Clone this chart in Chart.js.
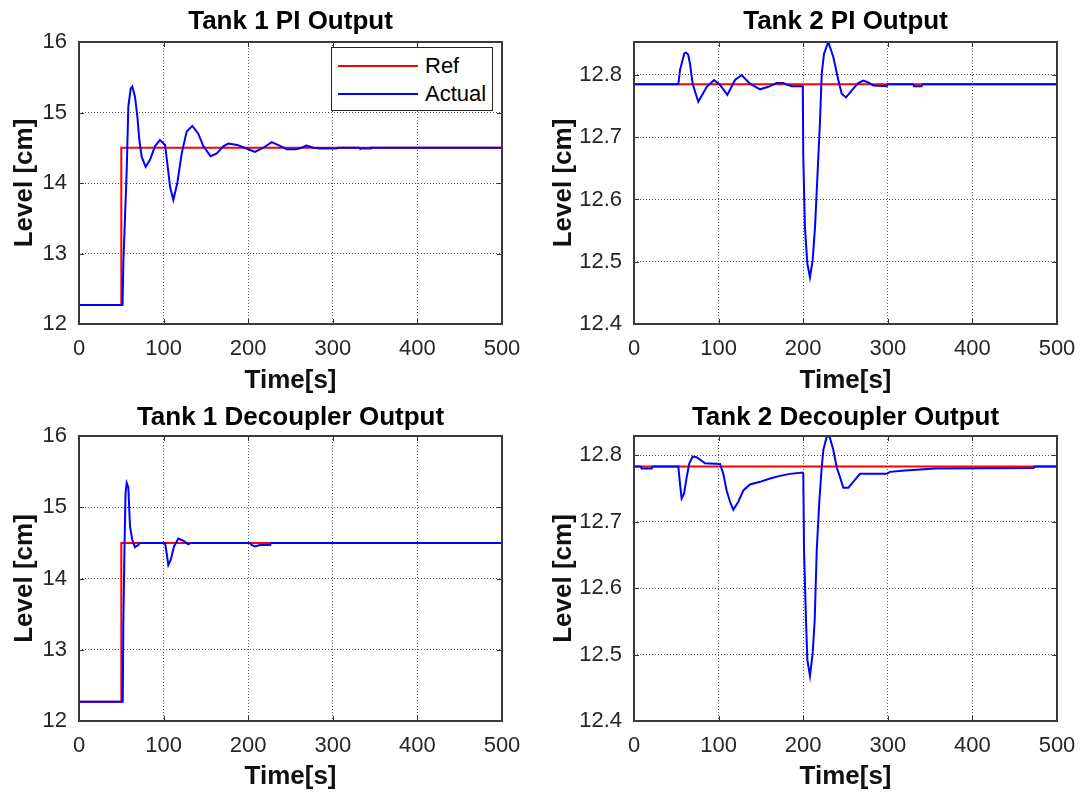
<!DOCTYPE html>
<html>
<head>
<meta charset="utf-8">
<script src="https://cdn.jsdelivr.net/npm/chart.js@4"></script>
<style>
body { margin: 0; background: #fff; }
#wrap { position: relative; width: 1083px; height: 798px; overflow: hidden; background: #fff; }
#wrap canvas { position: absolute; }
#legend { position: absolute; left: 331px; top: 47px; width: 160px; height: 62px; border: 1px solid #262626; background: #fff;
  font-family: "Liberation Sans", Arial, sans-serif; font-size: 22px; color: #000; }
.lrow { position: absolute; left: 0; height: 28px; line-height: 28px; width: 100%; }
.lline { position: absolute; left: 6px; top: 13px; width: 80px; height: 2px; }
.ltext { position: absolute; left: 93px; top: 0; }
</style>
</head>
<body>
<div id="wrap">
  <canvas id="c1" width="581" height="399" style="left:0;top:0"></canvas>
  <canvas id="c2" width="609" height="399" style="left:541px;top:0"></canvas>
  <canvas id="c3" width="581" height="399" style="left:0;top:399px"></canvas>
  <canvas id="c4" width="609" height="399" style="left:541px;top:399px"></canvas>
  <div id="legend"></div>
</div>
<script>
// Tank 1 PI
var t1PiRefTime = [0, 50, 50, 500];
var t1PiRef = [12.27, 12.27, 14.5, 14.5];
var t1PiTime = [0, 51.5, 52.4, 54.4, 56.4, 58.3, 61.1, 63, 66.2, 69, 71.3, 74.1, 78.8, 83.9, 89.8, 95.7, 101.7, 104.4, 107.6, 111.5, 116.2, 121.4, 127.3, 134, 141, 147, 155.6, 162.8, 170.6, 176.5, 187, 198, 208, 218, 227.7, 237, 245.5, 257, 263, 269, 277, 285, 304.6, 306, 331, 332, 344, 345, 500];
var t1PiActual = [12.27, 12.27, 12.86, 13.52, 14.18, 15.08, 15.34, 15.37, 15.22, 14.94, 14.61, 14.37, 14.23, 14.33, 14.52, 14.61, 14.54, 14.28, 13.95, 13.76, 14.0, 14.42, 14.73, 14.81, 14.70, 14.52, 14.38, 14.42, 14.52, 14.56, 14.54, 14.49, 14.44, 14.50, 14.58, 14.53, 14.48, 14.48, 14.50, 14.53, 14.50, 14.49, 14.49, 14.50, 14.50, 14.49, 14.49, 14.50, 14.50];

// Tank 2 PI
var t2PiRefTime = [0, 500];
var t2PiRef = [12.785, 12.785];
var t2PiTime = [0, 52.4, 54.4, 56.3, 59.5, 61.5, 64, 66.2, 69.3, 76, 86, 94.6, 101.7, 110.3, 119.4, 127.3, 137, 149, 158.8, 168.6, 176.5, 180, 186.4, 199.5, 200.1, 202, 204.9, 208, 211.2, 214, 217.9, 219.9, 221.9, 224.6, 229.7, 235.6, 241.5, 245.5, 250.6, 259.3, 265, 271, 277, 283, 298.7, 300, 330, 331, 340, 341, 500];
var t2PiActual = [12.785, 12.785, 12.808, 12.818, 12.835, 12.836, 12.833, 12.818, 12.786, 12.757, 12.781, 12.792, 12.784, 12.768, 12.792, 12.800, 12.786, 12.777, 12.781, 12.787, 12.787, 12.785, 12.782, 12.782, 12.669, 12.556, 12.497, 12.475, 12.503, 12.556, 12.669, 12.727, 12.802, 12.834, 12.853, 12.829, 12.792, 12.770, 12.764, 12.778, 12.787, 12.791, 12.788, 12.783, 12.782, 12.785, 12.785, 12.782, 12.782, 12.785, 12.785];

// Tank 1 decoupler
var t1DecRefTime = [0, 50, 50, 500];
var t1DecRef = [12.27, 12.27, 14.5, 14.5];
var t1DecTime = [0, 51.7, 52.4, 53.8, 55, 56.4, 58.3, 60.3, 63, 66.2, 70.1, 72, 101.7, 103.7, 105.6, 108.4, 112.3, 117.4, 123.3, 129.2, 132, 202, 204, 208, 214, 226, 227, 500];
var t1DecActual = [12.27, 12.27, 13.37, 14.45, 15.2, 15.34, 15.28, 14.73, 14.54, 14.44, 14.47, 14.5, 14.5, 14.35, 14.19, 14.26, 14.45, 14.56, 14.53, 14.48, 14.5, 14.5, 14.47, 14.45, 14.47, 14.47, 14.5, 14.5];

// Tank 2 decoupler
var t2DecRefTime = [0, 500];
var t2DecRef = [12.783, 12.783];
var t2DecTime = [0, 8, 9, 21, 22, 52.4, 54.4, 56.3, 59.1, 62.3, 65.4, 69.3, 74, 84, 101.7, 105.6, 109.5, 113.5, 117.4, 123.3, 129.2, 137.1, 149, 160.8, 172.6, 184.4, 199.4, 200.1, 201, 203.3, 204.9, 208, 211.2, 213.6, 216, 219.1, 221.9, 223.8, 227.8, 231, 235.6, 239.6, 243.5, 247.4, 253.3, 267.1, 298.7, 302.6, 320.3, 355.8, 472, 474, 500];
var t2DecActual = [12.783, 12.783, 12.780, 12.780, 12.783, 12.783, 12.757, 12.735, 12.742, 12.767, 12.788, 12.798, 12.797, 12.788, 12.787, 12.772, 12.747, 12.730, 12.718, 12.730, 12.747, 12.756, 12.760, 12.765, 12.769, 12.772, 12.774, 12.772, 12.657, 12.552, 12.492, 12.468, 12.502, 12.552, 12.657, 12.732, 12.782, 12.808, 12.828, 12.829, 12.808, 12.782, 12.767, 12.751, 12.751, 12.772, 12.772, 12.775, 12.777, 12.780, 12.781, 12.783, 12.783];

var xTicks = [0, 100, 200, 300, 400, 500];

Chart.defaults.font.family = '"Liberation Sans", Arial, sans-serif';
Chart.defaults.color = '#262626';

function toXY(t, v) {
    var pts = [];
    for (var i = 0; i < t.length; i++) {
        pts.push({x: t[i], y: v[i]});
    }
    return pts;
}

// axes box and inward tick marks, like matlab
var boxPlugin = {
    id: 'box',
    afterDraw: function(chart) {
        var ctx = chart.ctx;
        var a = chart.chartArea;
        var xs = chart.scales.x, ys = chart.scales.y;
        var len = 5;
        ctx.save();
        ctx.strokeStyle = '#333';
        ctx.lineWidth = 1;
        ctx.beginPath();
        xs.ticks.forEach(function(tk) {
            var px = Math.round(xs.getPixelForValue(tk.value)) + 0.5;
            ctx.moveTo(px, a.bottom); ctx.lineTo(px, a.bottom - len);
            ctx.moveTo(px, a.top); ctx.lineTo(px, a.top + len);
        });
        ys.ticks.forEach(function(tk) {
            var py = Math.round(ys.getPixelForValue(tk.value)) + 0.5;
            ctx.moveTo(a.left, py); ctx.lineTo(a.left + len, py);
            ctx.moveTo(a.right, py); ctx.lineTo(a.right - len, py);
        });
        ctx.stroke();
        ctx.lineWidth = 2;
        ctx.strokeStyle = '#3a3a3a';
        ctx.strokeRect(a.left, a.top, a.right - a.left, a.bottom - a.top);
        ctx.restore();
    }
};

function makeChart(id, cfg) {
    var ctx = document.getElementById(id).getContext('2d');
    return new Chart(ctx, {
        type: 'line',
        data: {
            datasets: [
                {
                    label: 'Ref',
                    data: toXY(cfg.refTime, cfg.ref),
                    borderColor: '#ff0000',
                    borderWidth: 2,
                    pointRadius: 0,
                    yAxisID: 'y',
                    order: 2
                },
                {
                    label: 'Actual',
                    data: toXY(cfg.time, cfg.actual),
                    borderColor: '#0000ff',
                    borderWidth: 2,
                    pointRadius: 0,
                    yAxisID: 'y',
                    order: 1
                }
            ]
        },
        options: {
            responsive: false,
            animation: false,
            layout: { padding: 0 },
            plugins: {
                legend: { display: false },
                tooltip: { enabled: false },
                title: {
                    display: true,
                    text: cfg.title,
                    color: '#000',
                    font: { size: 26, weight: 'bold' },
                    padding: { top: cfg.titleTop, bottom: cfg.titleBottom }
                }
            },
            scales: {
                x: {
                    type: 'linear',
                    min: 0,
                    max: 500,
                    afterBuildTicks: function(scale) {
                        scale.ticks = xTicks.map(function(v) { return {value: v}; });
                    },
                    ticks: { font: { size: 22 }, padding: 12, maxRotation: 0, color: '#262626' },
                    grid: { color: 'rgba(30,30,30,0.75)', lineWidth: 1, drawTicks: false },
                    border: { display: false, dash: [1, 2] },
                    title: {
                        display: true,
                        text: 'Time[s]',
                        color: '#111',
                        font: { size: 26, weight: 'bold' },
                        padding: { top: 0, bottom: cfg.xTitleBottom }
                    },
                    afterFit: function(scale) { scale.height = cfg.xHeight; }
                },
                y: {
                    type: 'linear',
                    position: 'left',
                    min: cfg.yMin,
                    max: cfg.yMax,
                    afterBuildTicks: function(scale) {
                        scale.ticks = cfg.yTicks.map(function(v) { return {value: v}; });
                    },
                    ticks: {
                        font: { size: 22 },
                        padding: 12,
                        color: '#262626',
                        callback: function(v) { return v.toFixed(cfg.dec); }
                    },
                    grid: { color: 'rgba(30,30,30,0.75)', lineWidth: 1, drawTicks: false },
                    border: { display: false, dash: [1, 2] },
                    title: {
                        display: true,
                        text: 'Level [cm]',
                        color: '#111',
                        font: { size: 26, weight: 'bold' },
                        padding: { top: cfg.yTitleTop, bottom: 0 }
                    },
                    afterFit: function(scale) { scale.width = cfg.yWidth; }
                },
                // empty spacer on the right so the title is centred over the axes
                yPad: {
                    type: 'linear',
                    position: 'right',
                    ticks: { display: false },
                    grid: { display: false, drawTicks: false },
                    border: { display: false },
                    afterFit: function(scale) { scale.width = cfg.yWidth; }
                }
            }
        },
        plugins: [boxPlugin]
    });
}

var chart1 = makeChart('c1', {
    title: 'Tank 1 PI Output', refTime: t1PiRefTime, ref: t1PiRef, time: t1PiTime, actual: t1PiActual,
    yMin: 12, yMax: 16, yTicks: [12, 13, 14, 15, 16], dec: 0,
    yWidth: 79, xHeight: 75, titleTop: 6.4, titleBottom: 4.4, xTitleBottom: 2.4, yTitleTop: 9.4
});
makeChart('c2', {
    title: 'Tank 2 PI Output', refTime: t2PiRefTime, ref: t2PiRef, time: t2PiTime, actual: t2PiActual,
    yMin: 12.4, yMax: 12.853, yTicks: [12.4, 12.5, 12.6, 12.7, 12.8], dec: 1,
    yWidth: 93, xHeight: 75, titleTop: 6.4, titleBottom: 4.4, xTitleBottom: 2.4, yTitleTop: 7.4
});
makeChart('c3', {
    title: 'Tank 1 Decoupler Output', refTime: t1DecRefTime, ref: t1DecRef, time: t1DecTime, actual: t1DecActual,
    yMin: 12, yMax: 16, yTicks: [12, 13, 14, 15, 16], dec: 0,
    yWidth: 79, xHeight: 77, titleTop: 3.4, titleBottom: 2.4, xTitleBottom: 5.4, yTitleTop: 9.4
});
makeChart('c4', {
    title: 'Tank 2 Decoupler Output', refTime: t2DecRefTime, ref: t2DecRef, time: t2DecTime, actual: t2DecActual,
    yMin: 12.4, yMax: 12.829, yTicks: [12.4, 12.5, 12.6, 12.7, 12.8], dec: 1,
    yWidth: 93, xHeight: 77, titleTop: 3.4, titleBottom: 2.4, xTitleBottom: 5.4, yTitleTop: 7.4
});

// legend for the first plot, built from its datasets
var legend = document.getElementById('legend');
chart1.data.datasets.forEach(function(ds, i) {
    var row = document.createElement('div');
    row.className = 'lrow';
    row.style.top = (4 + i * 28) + 'px';
    var line = document.createElement('span');
    line.className = 'lline';
    line.style.background = ds.borderColor;
    var txt = document.createElement('span');
    txt.className = 'ltext';
    txt.textContent = ds.label;
    row.appendChild(line);
    row.appendChild(txt);
    legend.appendChild(row);
});
</script>
</body>
</html>
